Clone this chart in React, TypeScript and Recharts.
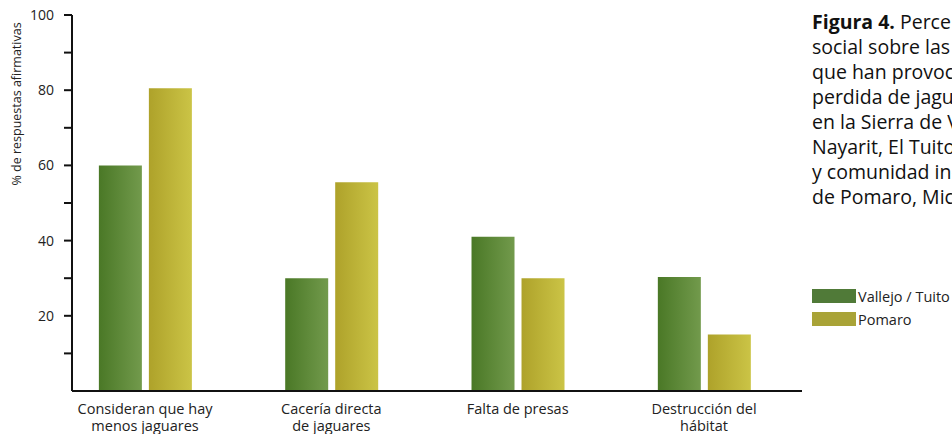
import { BarChart, Bar, XAxis, YAxis, Label } from "recharts";

const categories = [
  ["Consideran que hay", "menos jaguares"],
  ["Cacería directa", "de jaguares"],
  ["Falta de presas"],
  ["Destrucción del", "hábitat"],
];
const vallejo = [60, 30, 41, 30.3];
const pomaro = [80.5, 55.5, 30, 15];
const yTicks = [10, 20, 30, 40, 50, 60, 70, 80, 90, 100];
const captionLines = [
  "social sobre las causas",
  "que han provocado la",
  "perdida de jaguares",
  "en la Sierra de Vallejo,",
  "Nayarit, El Tuito, Jalisco",
  "y comunidad indígena",
  "de Pomaro, Michoacán.",
];

const data = categories.map((c, i) => ({
  idx: i,
  vallejo: vallejo[i],
  pomaro: pomaro[i],
}));

const FONT = "'Open Sans', 'Noto Sans', sans-serif";

const CategoryTick = ({ x, y, payload }: any) => {
  const lines = categories[payload.value] || [];
  return (
    <text x={x} y={y} textAnchor="middle" fill="#222" fontSize={14.5} fontFamily={FONT}>
      {lines.map((l, i) => (
        <tspan key={i} x={x} dy={i === 0 ? 15 : 17}>
          {l}
        </tspan>
      ))}
    </text>
  );
};

export default function App() {
  return (
    <div
      style={{
        position: "absolute",
        left: 0,
        top: 0,
        width: 952,
        height: 434,
        overflow: "hidden",
        background: "#fff",
        fontFamily: FONT,
      }}
    >
      <BarChart
        width={952}
        height={434}
        data={data}
        margin={{ top: 15, right: 150, left: 8, bottom: 0 }}
        barGap={7}
      >
        <defs>
          <linearGradient id="gGreen" x1="0" y1="0" x2="1" y2="0">
            <stop offset="0%" stopColor="#4a7826" />
            <stop offset="100%" stopColor="#729a4c" />
          </linearGradient>
          <linearGradient id="gYellow" x1="0" y1="0" x2="1" y2="0">
            <stop offset="0%" stopColor="#aea22a" />
            <stop offset="100%" stopColor="#cbc446" />
          </linearGradient>
        </defs>
        <XAxis
          dataKey="idx"
          type="number"
          domain={[-0.392, 3.526]}
          ticks={[0, 1, 2, 3]}
          allowDataOverflow
          tickLine={false}
          axisLine={{ stroke: "#111", strokeWidth: 2 }}
          tick={<CategoryTick />}
          height={43}
          interval={0}
        />
        <YAxis
          type="number"
          domain={[0, 100]}
          ticks={yTicks}
          width={64}
          tickSize={8}
          tickMargin={10}
          tickLine={{ stroke: "#111", strokeWidth: 2 }}
          axisLine={{ stroke: "#111", strokeWidth: 2 }}
          tickFormatter={(v: number) => (v % 20 === 0 ? String(v) : "")}
          tick={{ fill: "#222", fontSize: 14, fontFamily: FONT }}
        >
          <Label
            content={() => (
              <text
                x={21}
                y={104}
                transform="rotate(-90 21 104)"
                textAnchor="middle"
                fill="#222"
                fontSize={12.5}
                fontFamily={FONT}
              >
                % de respuestas afirmativas
              </text>
            )}
          />
        </YAxis>
        <Bar dataKey="vallejo" fill="url(#gGreen)" barSize={43} isAnimationActive={false} />
        <Bar dataKey="pomaro" fill="url(#gYellow)" barSize={43} isAnimationActive={false} />
      </BarChart>

      <div
        style={{
          position: "absolute",
          left: 812,
          top: 9,
          fontSize: 19.5,
          lineHeight: "25px",
          color: "#111",
          whiteSpace: "nowrap",
        }}
      >
        <div>
          <b>Figura 4.</b> Percepción
        </div>
        {captionLines.map((l, i) => (
          <div key={i}>{l}</div>
        ))}
      </div>

      <div style={{ position: "absolute", left: 812, top: 286, fontSize: 14.5, color: "#222" }}>
        <div style={{ display: "flex", alignItems: "center", height: 20 }}>
          <span style={{ width: 44, height: 14, background: "#507a38", marginRight: 2 }} />
          Vallejo / Tuito
        </div>
        <div style={{ display: "flex", alignItems: "center", height: 20, marginTop: 3 }}>
          <span style={{ width: 44, height: 14, background: "#a9a337", marginRight: 2 }} />
          Pomaro
        </div>
      </div>
    </div>
  );
}
